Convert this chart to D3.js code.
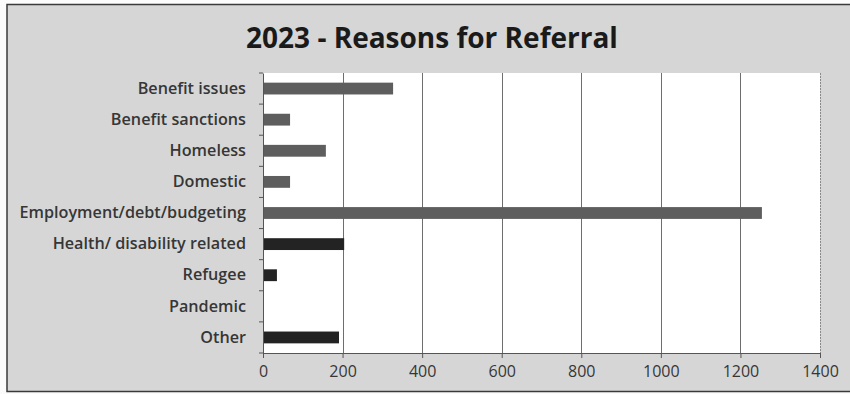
<!DOCTYPE html>
<html>
<head>
<meta charset="utf-8">
<script src="https://cdn.jsdelivr.net/npm/d3@7/dist/d3.min.js"></script>
<style>
  html, body { margin: 0; padding: 0; background: #fff; }
  svg { display: block; }
</style>
</head>
<body>
<svg id="chart" width="850" height="394"></svg>
<script>
// Referral reasons and counts for 2023
const categories = [
  "Benefit issues",
  "Benefit sanctions",
  "Homeless",
  "Domestic",
  "Employment/debt/budgeting",
  "Health/ disability related",
  "Refugee",
  "Pandemic",
  "Other"
];
const referrals = [327, 68, 158, 68, 1254, 204, 35, 0, 191];
const xTicks = [0, 200, 400, 600, 800, 1000, 1200, 1400];
const titleText = "2023 - Reasons for Referral";

const W = 850, H = 394;
const plot = { left: 263, right: 820, top: 73, bottom: 353 };
const font = "'Open Sans', Lato, sans-serif";

const svg = d3.select("#chart");

// Chart background and frame
svg.append("rect").attr("x", 0).attr("y", 0).attr("width", W).attr("height", H).attr("fill", "#fbfbfb");
svg.append("rect")
  .attr("x", 7).attr("y", 4.5).attr("width", W + 10).attr("height", 387)
  .attr("fill", "#d6d6d6").attr("stroke", "#3a3a3a").attr("stroke-width", 1.5);

// Plot area
svg.append("rect")
  .attr("x", plot.left).attr("y", plot.top)
  .attr("width", plot.right - plot.left).attr("height", plot.bottom - plot.top)
  .attr("fill", "#ffffff");

const x = d3.scaleLinear().domain([0, 1400]).range([plot.left, plot.right]);
const y = d3.scaleBand().domain(categories).range([plot.top, plot.bottom]).paddingInner(0.62).paddingOuter(0.31);
const yBand = d3.scaleBand().domain(categories).range([plot.top, plot.bottom]);

// Vertical gridlines
svg.append("g").selectAll("line").data(xTicks.slice(1)).join("line")
  .attr("x1", d => Math.round(x(d)) + 0.5).attr("x2", d => Math.round(x(d)) + 0.5)
  .attr("y1", plot.top).attr("y2", plot.bottom)
  .attr("stroke", d => d === 1400 ? "#8a8a8a" : "#6e6e6e")
  .attr("stroke-width", 1)
  .attr("stroke-dasharray", d => d === 1400 ? "2,1" : null);

// Bars
const barColor = i => i >= 5 ? "#232323" : "#5e5e5e";
svg.append("g").selectAll("rect").data(referrals).join("rect")
  .attr("x", x(0))
  .attr("y", (d, i) => y(categories[i]))
  .attr("width", d => x(d) - x(0))
  .attr("height", y.bandwidth())
  .attr("fill", (d, i) => barColor(i));

// Category axis
const yAxis = svg.append("g").attr("transform", `translate(${x(0)},0)`)
  .call(d3.axisLeft(yBand).tickSize(0).tickPadding(17));
yAxis.select(".domain").attr("stroke", "#555").attr("stroke-width", 1);
yAxis.selectAll("text")
  .attr("font-family", font)
  .attr("font-size", 16.2)
  .attr("font-weight", 600)
  .attr("fill", "#363636");
// Boundary ticks between categories
svg.append("g").selectAll("line").data(d3.range(categories.length + 1)).join("line")
  .attr("x1", x(0) - 4).attr("x2", x(0))
  .attr("y1", i => plot.top + i * yBand.step()).attr("y2", i => plot.top + i * yBand.step())
  .attr("stroke", "#555");

// Value axis
const xAxis = svg.append("g").attr("transform", `translate(0,${plot.bottom})`)
  .call(d3.axisBottom(x).tickValues(xTicks).tickSize(5).tickPadding(8).tickFormat(d3.format("d")));
xAxis.select(".domain").attr("stroke", "#555");
xAxis.selectAll(".tick line").attr("stroke", "#555");
xAxis.selectAll("text")
  .attr("font-family", font)
  .attr("font-size", 16)
  .attr("fill", "#363636");

// Title
svg.append("text")
  .attr("x", 432).attr("y", 48)
  .attr("text-anchor", "middle")
  .attr("font-family", font)
  .attr("font-weight", "bold")
  .attr("font-size", 28)
  .attr("fill", "#1a1a1a")
  .text(titleText);
</script>
</body>
</html>
